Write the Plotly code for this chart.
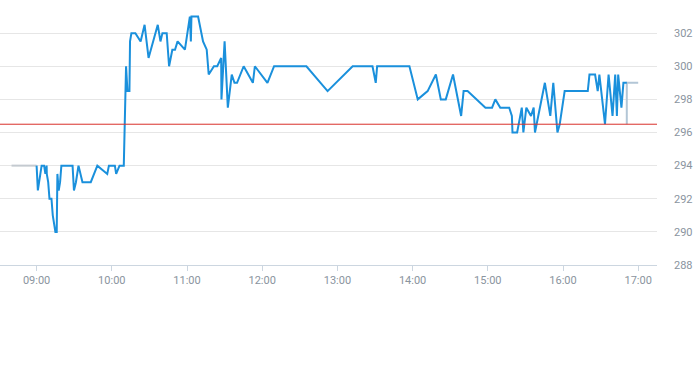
import plotly.graph_objects as go

DAY = "2024-01-02 "

# Pre-market (grey) segment
pre_times = ["08:40:00", "09:00:00"]
pre_values = [294, 294]

# Main session (blue)
times = [
    "09:00:00", "09:01:00", "09:02:00", "09:04:00", "09:06:00", "09:07:00", "09:08:00",
    "09:08:08", "09:09:15", "09:10:17", "09:11:52", "09:12:54", "09:15:00", "09:16:03",
    "09:16:36", "09:17:38", "09:18:44", "09:19:46", "09:28:42", "09:29:48", "09:31:23",
    "09:33:26", "09:36:36", "09:43:14", "09:48:28", "09:56:22", "09:57:42", "10:02:27",
    "10:03:29", "10:06:10", "10:09:34", "10:11:23", "10:12:30", "10:14:04", "10:14:33",
    "10:15:39", "10:18:49", "10:23:00", "10:26:10", "10:29:20", "10:36:41", "10:38:49",
    "10:40:24", "10:43:48", "10:45:42", "10:48:18", "10:50:26", "10:52:29", "10:58:20",
    "11:02:17", "11:03:05", "11:03:33", "11:08:51", "11:12:48", "11:15:44", "11:17:19",
    "11:21:30", "11:24:07", "11:27:16", "11:27:30", "11:30:00", "11:32:34", "11:35:43",
    "11:37:52", "11:39:56", "11:45:13", "11:52:34", "11:54:09", "12:04:11", "12:09:29",
    "12:35:16", "12:52:10", "13:12:10", "13:28:00", "13:30:36", "13:31:42", "13:57:28",
    "14:04:07", "14:12:00", "14:18:34", "14:22:31", "14:26:28", "14:32:15", "14:38:44",
    "14:40:42", "14:43:52", "14:58:07", "15:03:24", "15:06:00", "15:09:58", "15:17:05",
    "15:19:13", "15:19:41", "15:23:24", "15:27:07", "15:28:23", "15:30:45", "15:34:28",
    "15:36:36", "15:37:38", "15:45:32", "15:49:52", "15:52:15", "15:55:34", "15:57:23",
    "16:01:20", "16:19:46", "16:21:07", "16:25:36", "16:27:41", "16:29:01", "16:33:30",
    "16:36:22", "16:39:31", "16:41:40", "16:43:00", "16:44:02", "16:46:37", "16:48:12",
    "16:50:54",
]
values = [
    294, 292.5, 293, 294, 294, 293.5, 294,
    293.5, 293, 292, 292, 291, 290, 290,
    293.5, 292.5, 293, 294, 294, 292.5, 293,
    294, 293, 293, 294, 293.5, 294, 294,
    293.5, 294, 294, 300, 298.5, 298.5, 301.5,
    302, 302, 301.5, 302.5, 300.5, 302.5, 301.5,
    302, 302, 300, 301, 301, 301.5, 301,
    303, 301.5, 303, 303, 301.5, 301, 299.5,
    300, 300, 300.5, 298, 301.5, 297.5, 299.5,
    299, 299, 300, 299, 300, 299, 300,
    300, 298.5, 300, 300, 299, 300, 300,
    298, 298.5, 299.5, 298, 298, 299.5, 297,
    298.5, 298.5, 297.5, 297.5, 298, 297.5, 297.5,
    297, 296, 296, 297.5, 296, 297.5, 297,
    297.5, 296, 299, 297, 299, 296, 296.5,
    298.5, 298.5, 299.5, 299.5, 298.5, 299.5, 296.5,
    299.5, 297, 299.5, 297, 299.5, 297.5, 299,
    299,
]

# Post-session (grey-blue) segment
post_times = ["16:50:54", "16:50:54", "17:00:00"]
post_values = [296.5, 299, 299]

prev_close = 296.5

x_ticks = ["09:00", "10:00", "11:00", "12:00", "13:00", "14:00", "15:00", "16:00", "17:00"]
y_ticks = [288, 290, 292, 294, 296, 298, 300, 302]

fig = go.Figure()
fig.add_trace(go.Scatter(x=[DAY + t for t in pre_times], y=pre_values, mode="lines",
                         line=dict(color="#c4cad0", width=2), hoverinfo="skip"))
fig.add_trace(go.Scatter(x=[DAY + t for t in post_times], y=post_values, mode="lines",
                         line=dict(color="#b3c6d6", width=2), hoverinfo="skip"))
fig.add_trace(go.Scatter(x=[DAY + t for t in times], y=values, mode="lines",
                         line=dict(color="#1a90dc", width=2)))
fig.add_hline(y=prev_close, line=dict(color="#d9302a", width=1))

fig.update_layout(
    width=693, height=365,
    margin=dict(l=0, r=30, t=0, b=100),
    paper_bgcolor="white", plot_bgcolor="white",
    showlegend=False,
    font=dict(family="Roboto", size=11, color="#8a949e"),
    xaxis=dict(
        range=[DAY + "08:30:48", DAY + "17:15:00"],
        tickvals=[DAY + t + ":00" for t in x_ticks], ticktext=x_ticks,
        showgrid=False, showline=True, linecolor="#ccd6e0", linewidth=1,
        ticks="outside", ticklen=5, tickcolor="#ccd6e0", zeroline=False,
    ),
    yaxis=dict(
        side="right", range=[288, 304], tickvals=y_ticks,
        showgrid=True, gridcolor="#e6e6e6", gridwidth=1, zeroline=False,
        ticks="", ticklabelstandoff=16,
    ),
)

fig.write_html(
    "out.html",
    config={"displayModeBar": False},
    post_script="document.body.style.margin='0';document.body.style.overflow='hidden';",
)
